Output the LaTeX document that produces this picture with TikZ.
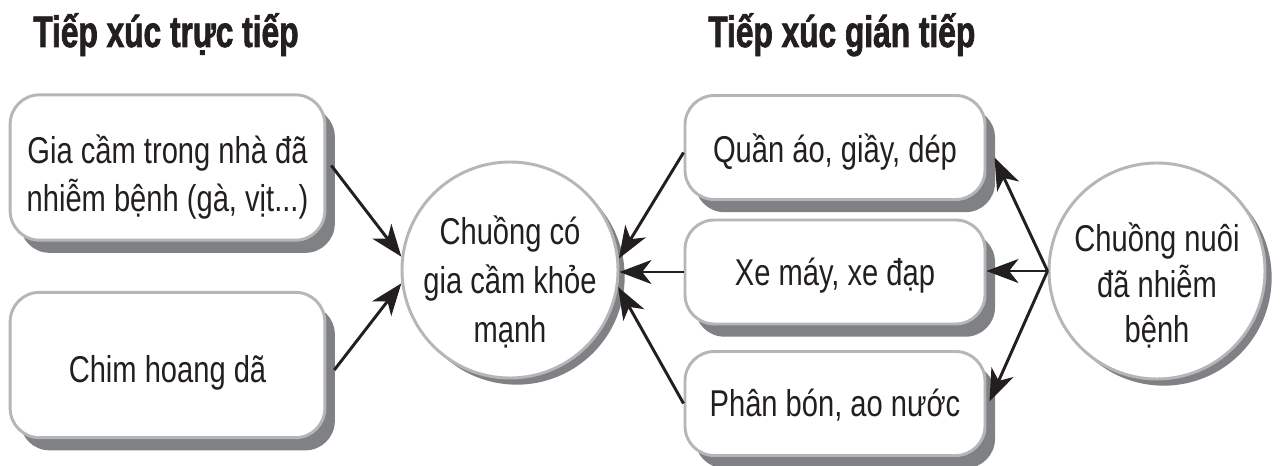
\documentclass[tikz,border=0pt]{standalone}
\usepackage{fontspec}
\setmainfont{Liberation Sans}[FakeStretch=0.78]
\newfontfamily\titlefont{Liberation Sans}[FakeStretch=0.72, BoldFeatures={FakeBold=1.6}]
\usetikzlibrary{arrows.meta,shadows}
\definecolor{shadowgray}{HTML}{808184}
\definecolor{bordergray}{HTML}{B5B6B8}
\definecolor{inkblack}{HTML}{231F20}
\tikzset{
  boxnode/.style={rectangle, rounded corners=22pt, draw=bordergray, line width=2.2pt, fill=white,
    inner sep=0pt,
    drop shadow={shadow xshift=7.5pt, shadow yshift=-9.5pt, fill=shadowgray, opacity=1}},
  circnode/.style={circle, draw=bordergray, line width=2.2pt, fill=white,
    inner sep=0pt, minimum size=162pt,
    drop shadow={shadow xshift=5pt, shadow yshift=-5pt, fill=shadowgray, opacity=1}},
  textnode/.style={align=center, font=\fontsize{28}{36}\selectfont, text=inkblack, inner sep=0pt},
  titlenode/.style={font=\fontsize{33}{40}\selectfont\titlefont\bfseries, text=inkblack, anchor=base west, inner sep=0pt},
  link/.style={draw=inkblack, line width=2.2pt, -{Stealth[length=24pt, width=18pt, inset=7pt]}}
}
\begin{document}
\begin{tikzpicture}[x=0.75pt, y=-0.75pt]
\useasboundingbox (0,0) rectangle (1286,466);
\node[titlenode] (t1) at (33,47) {Tiếp xúc trực tiếp};
\node[titlenode] (t2) at (708,47) {Tiếp xúc gián tiếp};
\node[boxnode, minimum width=236pt, minimum height=109pt] (b1) at (167.5,167.5) {};
\node[boxnode, minimum width=236pt, minimum height=109pt] (b2) at (167.5,365) {};
\node[circnode] (c1) at (510,270) {};
\node[boxnode, minimum width=225pt, minimum height=78pt] (r1) at (835,147.5) {};
\node[boxnode, minimum width=225pt, minimum height=78pt] (r2) at (835,272) {};
\node[boxnode, minimum width=225pt, minimum height=78pt] (r3) at (835,403.5) {};
\node[circnode] (c2) at (1157,271) {};
\node[textnode] (b1t) at ([yshift=-7pt]b1.center) {Gia cầm trong nhà đã\\nhiễm bệnh (gà, vịt...)};
\node[textnode] (b2t) at ([yshift=-6pt]b2.center) {Chim hoang dã};
\node[textnode, font=\fontsize{28}{36.5}\selectfont] (c1t) at ([yshift=-9pt]c1.center) {Chuồng có\\gia cầm khỏe\\mạnh};
\node[textnode] (r1t) at ([yshift=-3.5pt]r1.center) {Quần áo, giầy, dép};
\node[textnode] (r2t) at ([yshift=-3pt]r2.center) {Xe máy, xe đạp};
\node[textnode] (r3t) at ([yshift=-1.5pt]r3.center) {Phân bón, ao nước};
\node[textnode, font=\fontsize{28}{34}\selectfont] (c2t) at ([yshift=-11pt]c2.center) {Chuồng nuôi\\đã nhiễm\\bệnh};
\path[link] ([shift={(5,-2)}]b1.east) -- (c1.173);
\path[link] ([shift={(8,5)}]b2.east) -- (c1.187);
\path[link] ([shift={(0,5)}]r1.west) -- (c1.6);
\path[link] (r2.west) -- (c1.east |- r2.west);
\path[link] (r3.west) -- (c1.-9);
\path[link] (c2.west) -- ([shift={(8,10)}]r1.east);
\path[link] (c2.west) -- (r2.east |- c2.west);
\path[link] (c2.west) -- ([shift={(3,-2)}]r3.east);
\end{tikzpicture}
\end{document}
